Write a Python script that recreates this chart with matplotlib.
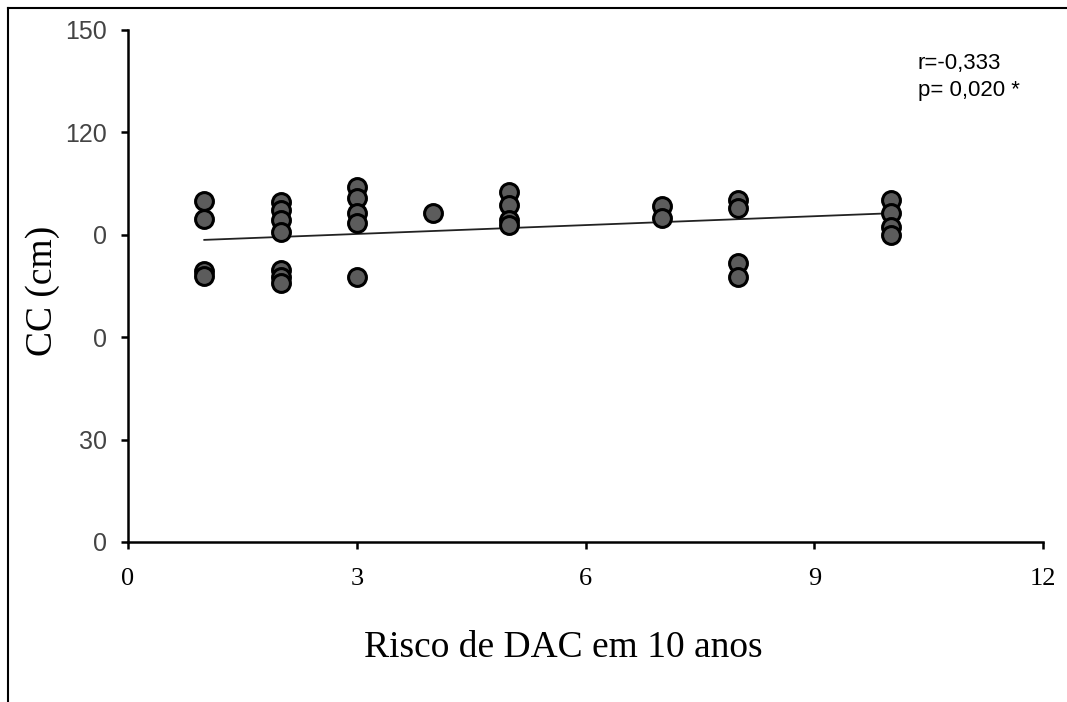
import numpy as np
import matplotlib
matplotlib.use("Agg")
import matplotlib.pyplot as plt
from matplotlib.lines import Line2D

# Data
risco = [1, 1, 1, 1,
         2, 2, 2, 2, 2, 2, 2,
         3, 3, 3, 3, 3,
         4,
         5, 5, 5, 5,
         7, 7,
         8, 8, 8, 8,
         10, 10, 10, 10]
cc = [100, 94.5, 79.5, 78,
      99.7, 97.2, 94.3, 90.9, 79.7, 77.7, 75.9,
      104.1, 100.7, 96.3, 93.4, 77.7,
      96.3,
      102.6, 98.7, 94.3, 92.9,
      98.5, 95,
      100.2, 97.8, 81.6, 77.7,
      100.2, 96.3, 92.4, 89.9]

trend_x = [1, 10]
trend_y = [88.5, 96.3]

y_ticks = [0, 30, 60, 90, 120, 150]
y_tick_labels = ["0", "30", "0", "0", "120", "150"]
x_ticks = [0, 3, 6, 9, 12]
x_tick_labels = ["0", "3", "6", "9", "12"]

fig = plt.figure(figsize=(10.67, 7.02), dpi=100)
ax = fig.add_axes([0.12, 0.228, 0.8575, 0.7293])

ax.plot(trend_x, trend_y, color="#222222", lw=1.3, zorder=2)
ax.scatter(risco, cc, s=165, facecolor="#5c5c5c", edgecolor="black",
           linewidth=2.2, zorder=3)

ax.set_xlim(0, 12)
ax.set_ylim(0, 150)
ax.set_xticks(x_ticks)
ax.set_xticklabels(x_tick_labels, fontfamily="Liberation Serif", fontsize=19)
ax.set_yticks(y_ticks)
ax.set_yticklabels(y_tick_labels, fontfamily="Liberation Sans", fontsize=18,
                   color="#444444")

for side in ["top", "right"]:
    ax.spines[side].set_visible(False)
for side in ["left", "bottom"]:
    ax.spines[side].set_linewidth(1.8)
ax.tick_params(axis="both", direction="out", length=5, width=1.8)
ax.tick_params(axis="y", pad=10)
ax.tick_params(axis="x", pad=14)

ax.set_xlabel("Risco de DAC em 10 anos", fontfamily="Liberation Serif",
              fontsize=27)
ax.xaxis.set_label_coords(0.476, -0.172)
ax.set_ylabel("CC (cm)", fontfamily="Liberation Serif", fontsize=27)
ax.yaxis.set_label_coords(-0.074, 0.49)

ax.text(0.863, 0.955, "r=-0,333\np= 0,020 *", transform=ax.transAxes,
        fontfamily="Liberation Sans", fontsize=16, va="top", ha="left",
        linespacing=1.35)

# outer frame (top and left edges)
fig.add_artist(Line2D([8 / 1067, 8 / 1067], [0, 1 - 8 / 702],
                      transform=fig.transFigure, color="black", lw=1.5))
fig.add_artist(Line2D([8 / 1067, 1], [1 - 8 / 702, 1 - 8 / 702],
                      transform=fig.transFigure, color="black", lw=1.5))

fig.savefig("out.png", dpi=100, facecolor="white")
